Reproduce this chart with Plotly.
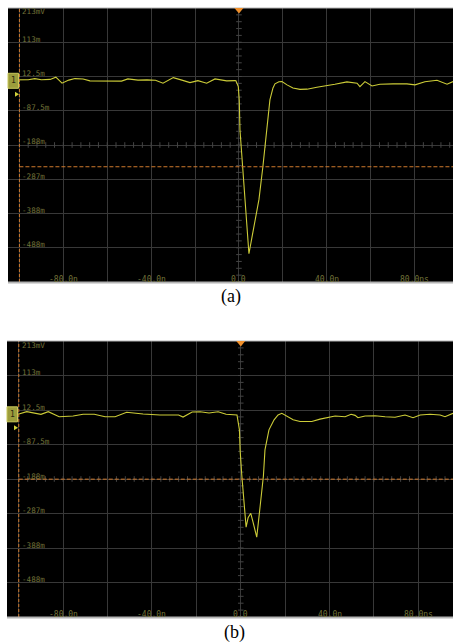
import numpy as np
import plotly.graph_objects as go

W, H = 453, 643

# ---------------- data ----------------
time_range_a = [-105.2, 97.5]      # ns, visible window of panel (a)
time_range_b = [-105.3, 95.6]      # ns, visible window of panel (b)
volt_range = [-587.5, 212.5]       # mV (8 div x 100 mV)

x_tick_values = [-80, -40, 0, 40, 80]
x_tick_labels = ["-80.0n", "-40.0n", "0.0", "40.0n", "80.0ns"]
y_tick_values = [212.5, 112.5, 12.5, -87.5, -187.5, -287.5, -387.5, -487.5]
y_tick_labels = ["213mV", "113m", "12.5m", "-87.5m", "-188m", "-287m", "-388m", "-488m"]

trigger_level_a = -251   # mV
trigger_level_b = -188   # mV

t_a = [-105.2, -99.8, -96, -93, -90, -86, -83.4, -80.6, -77.5, -74.7, -71, -67.9, -63,
       -58.8, -53.5, -50.6, -46, -41.9, -38, -34.6, -32, -29.9, -26, -22.3, -18.7, -14.7,
       -10.9, -5.6, -1.8, -1.4, -0.3, 0.14, 0.46, 2.5, 4.55, 5.9, 7.5, 9.1, 10.9, 12.8,
       14.1, 15.5, 16.4, 18.2, 19.6, 21.9, 24.6, 27.8, 31, 35.5, 40.1, 43.7, 49.2, 53.8,
       55.1, 57.4, 60.6, 64.2, 70.2, 76.5, 80.2, 84.7, 90.2, 94.8, 97.5]
v_a = [2.6, 2.6, 3, 6.4, 3, 4, 10.5, -7, 2, 6.4, 5, -0.3, -1.2,
       -1.2, -1, 5.5, 2, 2.6, 1.5, -7, 2, 9.3, 2, -5.3, 0.5, -7,
       5.5, -0.3, 0.5, 0, -17, -56, -143, -336, -505, -458, -403, -347, -251, -143,
       -56, -21, -9, -3, -2, -12, -21, -25, -24.5, -18.7, -15, -10, -3.2, -7,
       -17, -2.4, -15, -10, -9, -9, -12, -3, 1.7, -10, -2.4]

t_b = [-105.3, -100.3, -96.4, -90, -86.7, -81.8, -75.5, -71, -66, -61.1, -56.6, -51.4,
       -44, -36.4, -28, -26, -21.9, -18.3, -14.3, -10.2, -6.6, -3.5, -1.7, -0.6, -0.3,
       0.45, 1.4, 2.4, 3.3, 4.5, 5.5, 7.2, 8.7, 10.2, 10.9, 12.7, 15, 16.8, 18.5, 20.4,
       23.6, 26.7, 32, 35.7, 40.2, 42.5, 47, 49.7, 51.5, 52.8, 56, 60.5, 65, 69.5, 74,
       77.6, 80.8, 85.3, 89.8, 92, 95.6]
v_b = [0, 0, 7.6, 0, 7.6, -6.9, -4.9, 0, 0, -6.9, -6.9, 5.8,
       0.9, -2, -2, -7.9, 6.7, 7.6, 3.8, 7.6, 0, -2, -2, -45, -103,
       -176, -248, -327, -300, -287, -312, -356, -268, -179, -103, -45, -16, -2, 3, -5,
       -16, -21, -21, -14, -7, -5, -7, 0, -3, -9.8, -5, -4, -7, -8.7, -2,
       -10, -2, 0, -2, -7, 3]

captions = ["(a)", "(b)"]

# ---------------- style ----------------
BG = "#000000"
GRID = "#383838"
TICKC = "#444444"
TRACE = "#cccc38"
LABEL = "#727238"
ORANGE = "#d07a2c"
BORDER = "#b4b4b4"
MONO = "DejaVu Sans Mono"

panels = [
    dict(name="a", xa="x", ya="y", px=(8, 453), py=(8, 282), xr=time_range_a,
         t=t_a, v=v_a, trig=trigger_level_a, cap_xy=(231, 296)),
    dict(name="b", xa="x2", ya="y2", px=(7, 453), py=(341, 617), xr=time_range_b,
         t=t_b, v=v_b, trig=trigger_level_b, cap_xy=(234.5, 632)),
]

fig = go.Figure()
shapes, annotations = [], []
layout_axes = {}

for i, p in enumerate(panels):
    xd = [p["px"][0] / W, p["px"][1] / W]
    yd = [1 - p["py"][1] / H, 1 - p["py"][0] / H]
    xkey = "xaxis" if i == 0 else "xaxis%d" % (i + 1)
    ykey = "yaxis" if i == 0 else "yaxis%d" % (i + 1)
    common = dict(showgrid=True, gridcolor=GRID, gridwidth=1, zeroline=False,
                  showticklabels=False, ticks="", showline=False, fixedrange=True)
    layout_axes[xkey] = dict(domain=xd, range=p["xr"], anchor=p["ya"], tick0=0, dtick=20, **common)
    layout_axes[ykey] = dict(domain=yd, range=volt_range, anchor=p["xa"], tick0=12.5, dtick=100, **common)

    def xpaper(t, p=p, xd=xd):
        return xd[0] + (t - p["xr"][0]) / (p["xr"][1] - p["xr"][0]) * (xd[1] - xd[0])

    def ypaper(v, yd=yd):
        return yd[0] + (v - volt_range[0]) / (volt_range[1] - volt_range[0]) * (yd[1] - yd[0])

    # centre crosshair minor ticks
    tx = np.arange(-100, 100.01, 4)
    fig.add_trace(go.Scatter(x=tx, y=np.full(len(tx), -187.5), xaxis=p["xa"], yaxis=p["ya"],
                             mode="markers", hoverinfo="skip", showlegend=False,
                             marker=dict(symbol="line-ns", size=4, line=dict(color=TICKC, width=1))))
    ty = np.arange(volt_range[0], volt_range[1] + 0.01, 20)
    fig.add_trace(go.Scatter(x=np.zeros(len(ty)), y=ty, xaxis=p["xa"], yaxis=p["ya"],
                             mode="markers", hoverinfo="skip", showlegend=False,
                             marker=dict(symbol="line-ew", size=4, line=dict(color=TICKC, width=1))))

    # trigger level (dashed orange)
    shapes.append(dict(type="line", xref=p["xa"], yref=p["ya"], x0=-100, x1=p["xr"][1],
                       y0=p["trig"], y1=p["trig"], line=dict(color=ORANGE, width=1, dash="4px,2px"),
                       layer="above"))
    # left cursor (dashed orange)
    shapes.append(dict(type="line", xref=p["xa"], yref=p["ya"], x0=-100, x1=-100,
                       y0=volt_range[0], y1=volt_range[1],
                       line=dict(color=ORANGE, width=1, dash="3px,2px"), layer="above"))

    # waveform
    fig.add_trace(go.Scatter(x=p["t"], y=p["v"], xaxis=p["xa"], yaxis=p["ya"], mode="lines",
                             line=dict(color=TRACE, width=1.1), hoverinfo="skip", showlegend=False))

    # top / bottom frame lines
    for py_, wdt in ((p["py"][0], 1), (p["py"][1] + 0.5, 2)):
        yy = 1 - py_ / H
        shapes.append(dict(type="line", xref="paper", yref="paper", x0=xd[0], x1=1, y0=yy, y1=yy,
                           line=dict(color=BORDER, width=wdt), layer="above"))

    # trigger position marker at top
    xc = xpaper(0)
    ytop = yd[1]
    dx, dy = 4.5 / W, 5.5 / H
    shapes.append(dict(type="path", xref="paper", yref="paper",
                       path="M %f %f L %f %f L %f %f Z" % (xc - dx, ytop, xc + dx, ytop, xc, ytop - dy),
                       fillcolor="#f0902c", line=dict(width=0), layer="above"))

    # channel 1 marker at 0 mV
    y0p = ypaper(0)
    bx0, bx1 = xd[0], xd[0] + 10.5 / W
    shapes.append(dict(type="rect", xref="paper", yref="paper", x0=bx0, x1=bx1,
                       y0=y0p - 7.5 / H, y1=y0p + 7.5 / H, fillcolor="#9c9c3c",
                       line=dict(color="#c8c85a", width=1), layer="above"))
    annotations.append(dict(xref="paper", yref="paper", x=(bx0 + bx1) / 2, y=y0p, text="1",
                            showarrow=False, font=dict(family=MONO, size=8, color="#2a2a10"),
                            xanchor="center", yanchor="middle"))
    tri_y = y0p - 13.5 / H
    tx0 = xd[0] + 7 / W
    shapes.append(dict(type="path", xref="paper", yref="paper",
                       path="M %f %f L %f %f L %f %f Z" % (tx0, tri_y + 2.5 / H, tx0, tri_y - 2.5 / H,
                                                           tx0 + 4 / W, tri_y),
                       fillcolor="#d2d23c", line=dict(width=0), layer="above"))

    # y labels
    for val, lab in zip(y_tick_values, y_tick_labels):
        top = val == y_tick_values[0]
        annotations.append(dict(xref=p["xa"], yref=p["ya"], x=-100, y=val, text=lab,
                                showarrow=False, xanchor="left", yanchor="middle",
                                xshift=1, yshift=-4 if top else 3,
                                font=dict(family=MONO, size=7.6, color=LABEL)))
    # x labels
    for val, lab in zip(x_tick_values, x_tick_labels):
        annotations.append(dict(xref=p["xa"], yref=p["ya"], x=val, y=volt_range[0], text=lab,
                                showarrow=False, xanchor="center", yanchor="middle", yshift=3,
                                font=dict(family=MONO, size=8, color=LABEL)))

    # caption
    cx, cy = p["cap_xy"]
    annotations.append(dict(xref="paper", yref="paper", x=cx / W, y=1 - cy / H,
                            text=captions[i], showarrow=False, xanchor="center", yanchor="middle",
                            font=dict(family="Liberation Serif", size=18, color="#000000")))

fig.update_layout(width=W, height=H, margin=dict(l=0, r=0, t=0, b=0),
                  paper_bgcolor="#ffffff", plot_bgcolor=BG, showlegend=False,
                  shapes=shapes, annotations=annotations, **layout_axes)

fig.write_html("out.html", config={"displayModeBar": False})
